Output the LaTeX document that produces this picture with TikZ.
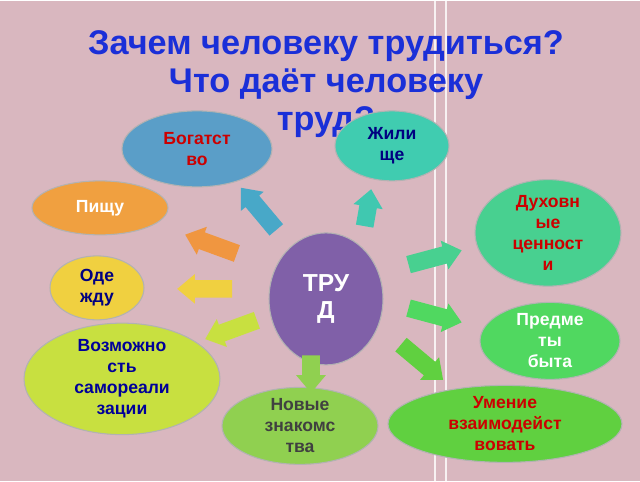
\documentclass[tikz,border=0pt]{standalone}
\usepackage{fontspec}
\setmainfont{Liberation Sans}
\usetikzlibrary{shapes.geometric,shapes.arrows}
\definecolor{bgpink}{HTML}{D9B7BF}
\definecolor{titleblue}{HTML}{1A2FD8}
\tikzset{
  oval/.style={ellipse, draw=gray!60, line width=0.6pt, align=center, font=\bfseries, inner sep=0pt},
  blk/.style={single arrow, draw=none, minimum height=1.1cm, inner xsep=0pt, inner ysep=0.17cm,
    single arrow head extend=0.12cm, single arrow tip angle=80}
}
\begin{document}
\begin{tikzpicture}[x=0.02cm,y=0.02cm,font=\fontsize{10.5}{11.5}\selectfont]
  \fill[bgpink] (0,0) rectangle (640,480);
  \draw[white!80!bgpink, line width=1pt] (435,0) -- (435,480) (446,0) -- (446,480);
  % title
  \node[font=\fontsize{19.5}{21.5}\selectfont\bfseries, text=titleblue, align=center] (title) at (326,397)
    {Зачем человеку трудиться?\\Что даёт человеку\\труд?};
  % ellipses
  \node[oval, fill={rgb,255:red,90;green,158;blue,200}, text=red!80!black, minimum width=3cm, minimum height=1.52cm] (wealth) at (197,332) {Богатст\\во};
  \node[oval, fill={rgb,255:red,64;green,204;blue,176}, text=blue!50!black, minimum width=2.28cm, minimum height=1.4cm] (home) at (392,335) {Жили\\ще};
  \node[oval, fill={rgb,255:red,240;green,160;blue,64}, text=white, minimum width=2.72cm, minimum height=1.08cm] (food) at (100,273) {Пищу};
  \node[oval, fill={rgb,255:red,72;green,208;blue,144}, text=red!80!black, minimum width=2.92cm, minimum height=1.52cm] (spirit) at (548,248) {Духовн\\ые\\ценност\\и};
  \node[oval, fill={rgb,255:red,240;green,208;blue,64}, text=blue!50!black, minimum width=1.88cm, minimum height=1.28cm] (cloth) at (97,193) {Оде\\жду};
  \node[oval, fill={rgb,255:red,128;green,96;blue,168}, text=white, minimum width=2.28cm, minimum height=2.64cm, font=\fontsize{14}{15}\selectfont\bfseries] (work) at (326,182) {ТРУ\\Д};
  \node[oval, fill={rgb,255:red,80;green,216;blue,96}, text=white, minimum width=2.8cm, minimum height=1.44cm] (items) at (550,140) {Предме\\ты\\быта};
  \node[oval, fill={rgb,255:red,200;green,224;blue,64}, text=blue!60!black, minimum width=3.92cm, minimum height=1.8cm] (self) at (122,102) {Возможно\\сть\\самореали\\зации};
  \node[oval, fill={rgb,255:red,144;green,208;blue,80}, text=darkgray, minimum width=3.12cm, minimum height=1.32cm] (friends) at (300,55) {Новые\\знакомс\\тва};
  \node[oval, fill={rgb,255:red,96;green,208;blue,64}, text=red!80!black, minimum width=4.68cm, minimum height=1.08cm] (skill) at (505,57) {Умение\\взаимодейст\\вовать};
  % arrows
  \node[blk, fill={rgb,255:red,72;green,168;blue,200}, rotate=130] (a1) at (262,268) {};
  \node[blk, fill={rgb,255:red,64;green,200;blue,176}, rotate=80, minimum height=0.75cm] (a2) at (367,268) {};
  \node[blk, fill={rgb,255:red,240;green,150;blue,64}, rotate=160] (a3) at (216,235) {};
  \node[blk, fill={rgb,255:red,240;green,208;blue,64}, rotate=180] (a4) at (210,192) {};
  \node[blk, fill={rgb,255:red,200;green,224;blue,64}, rotate=200] (a5) at (236,153) {};
  \node[blk, fill={rgb,255:red,144;green,208;blue,80}, rotate=-90, minimum height=0.75cm] (a6) at (311,112) {};
  \node[blk, fill={rgb,255:red,72;green,208;blue,144}, rotate=15] (a7) at (430,222) {};
  \node[blk, fill={rgb,255:red,80;green,216;blue,96}, rotate=-15] (a8) at (430,167) {};
  \node[blk, fill={rgb,255:red,96;green,208;blue,64}, rotate=-40] (a9) at (418,122) {};
\end{tikzpicture}
\end{document}
